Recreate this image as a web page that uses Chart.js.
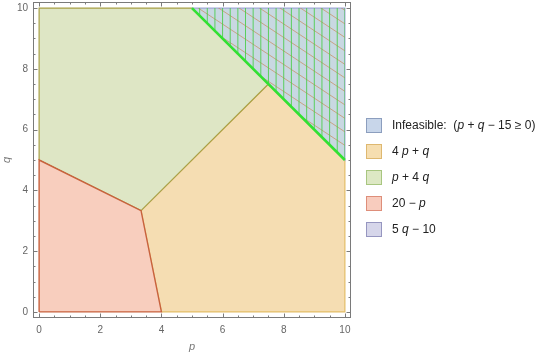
<!DOCTYPE html>
<html>
<head>
<meta charset="utf-8">
<script src="https://cdn.jsdelivr.net/npm/chart.js@4/dist/chart.umd.min.js"></script>
<style>
  html, body { margin: 0; padding: 0; background: #fff; }
  #wrap { position: relative; width: 540px; height: 355px; }
  #legend { position: absolute; left: 366px; top: 112px; font-family: "Liberation Sans", Arial, sans-serif; font-size: 12px; color: #222; }
  .row { display: flex; align-items: center; height: 26px; white-space: pre; }
  .box { width: 16px; height: 15px; box-sizing: border-box; border: 1px solid; margin-right: 10px; }
  .row i { font-style: italic; }
</style>
</head>
<body>
<div id="wrap">
  <canvas id="c" width="540" height="355"></canvas>
  <div id="legend"></div>
</div>
<script>
// ---- data ----
const legendLabels = ['Infeasible:  (p + q \u2212 15 \u2265 0)', '4 p + q', 'p + 4 q', '20 \u2212 p', '5 q \u2212 10'];
const infeasibleP = [5, 10, 10, 5];
const infeasibleQ = [10, 10, 5, 10];
const yellowP = [4, 10, 10, 7.5, 10 / 3, 4];      // region where 4p+q is minimal
const yellowQ = [0, 0, 5, 7.5, 10 / 3, 0];
const greenP = [0, 0, 5, 7.5, 10 / 3, 0];          // region where p+4q is minimal
const greenQ = [5, 10, 10, 7.5, 10 / 3, 5];
const redP = [0, 0, 10 / 3, 4, 0];                 // region where 20-p is minimal
const redQ = [0, 5, 10 / 3, 0, 0];
const purpleP = [];                                // 5q-10: empty region
const purpleQ = [];
const constraintP = [5, 10];                       // p + q = 15
const constraintQ = [10, 5];
const xTickValues = [0, 2, 4, 6, 8, 10];
const yTickValues = [0, 2, 4, 6, 8, 10];

// ---- styles ----
const legendFill = ['rgb(200,214,234)', 'rgb(246,222,176)', 'rgb(221,232,196)', 'rgb(248,204,190)', 'rgb(214,214,234)'];
const legendBorder = ['rgb(140,158,190)', 'rgb(222,184,112)', 'rgb(168,198,128)', 'rgb(222,142,122)', 'rgb(150,150,192)'];

const pts = (P, Q) => P.map((p, i) => ({ x: p, y: Q[i] }));

const TRI = 1;
const datasets = [
  { label: 'constraint', data: pts(constraintP, constraintQ), showLine: true, fill: false,
    borderColor: 'rgb(50,225,50)', borderWidth: 2.6, pointRadius: 0, order: 0 },
  { label: legendLabels[0], data: pts(infeasibleP, infeasibleQ), showLine: true, fill: 'shape',
    backgroundColor: 'rgb(200,216,226)', borderColor: 'rgb(160,168,216)', borderWidth: 1.2, pointRadius: 0, order: 1 },
  { label: legendLabels[3], data: pts(redP, redQ), showLine: true, fill: 'shape',
    backgroundColor: 'rgb(248,206,190)', borderColor: 'rgb(200,98,62)', borderWidth: 1.4, pointRadius: 0, order: 2 },
  { label: legendLabels[2], data: pts(greenP, greenQ), showLine: true, fill: 'shape',
    backgroundColor: 'rgb(222,230,197)', borderColor: 'rgb(168,160,70)', borderWidth: 1.2, pointRadius: 0, order: 3 },
  { label: legendLabels[1], data: pts(yellowP, yellowQ), showLine: true, fill: 'shape',
    backgroundColor: 'rgb(245,221,178)', borderColor: 'rgb(228,190,104)', borderWidth: 1.2, pointRadius: 0, order: 4 },
  { label: legendLabels[4], data: pts(purpleP, purpleQ), showLine: true, fill: 'shape',
    backgroundColor: 'rgb(214,214,234)', borderColor: 'rgb(150,150,192)', borderWidth: 1, pointRadius: 0, order: 5 }
];

const hatchPlugin = {
  id: 'hatch',
  afterDatasetDraw(chart, args) {
    if (args.index !== TRI) return;
    const pts = args.meta.data;
    if (!pts.length) return;
    const ctx = chart.ctx;
    const xs = chart.scales.x;
    ctx.save();
    ctx.beginPath();
    pts.forEach((p, i) => i ? ctx.lineTo(p.x, p.y) : ctx.moveTo(p.x, p.y));
    ctx.closePath();
    ctx.clip();
    const a = chart.chartArea;
    ctx.strokeStyle = 'rgba(200,135,85,0.75)';
    ctx.lineWidth = 0.9;
    const slope = 0.66;
    for (let c = a.top - 400; c < a.bottom + 100; c += 13.5) {
      ctx.beginPath();
      ctx.moveTo(a.left, c);
      ctx.lineTo(a.right, c + slope * (a.right - a.left));
      ctx.stroke();
    }
    ctx.strokeStyle = 'rgba(70,205,70,0.85)';
    ctx.lineWidth = 1;
    for (let v = 5; v <= 10.001; v += 0.25) {
      const x = xs.getPixelForValue(v);
      ctx.beginPath();
      ctx.moveTo(x, a.top);
      ctx.lineTo(x, a.bottom);
      ctx.stroke();
    }
    ctx.restore();
  }
};

const framePlugin = {
  id: 'frame',
  afterDatasetsDraw(chart) {
    const ctx = chart.ctx, a = chart.chartArea;
    const xs = chart.scales.x, ys = chart.scales.y;
    ctx.save();
    ctx.strokeStyle = '#7a7a7a';
    ctx.lineWidth = 1;
    ctx.strokeRect(Math.round(a.left) + 0.5, Math.round(a.top) + 0.5, Math.round(a.right - a.left) - 1, Math.round(a.bottom - a.top) - 1);
    ctx.beginPath();
    for (let v = 0; v <= 10.001; v += 0.5) {
      const len = (Math.abs(v % 2) < 1e-6) ? 4.5 : 2.5;
      const x = Math.round(xs.getPixelForValue(v)) + 0.5;
      ctx.moveTo(x, a.bottom); ctx.lineTo(x, a.bottom - len);
      ctx.moveTo(x, a.top); ctx.lineTo(x, a.top + len);
      const y = Math.round(ys.getPixelForValue(v)) + 0.5;
      ctx.moveTo(a.left, y); ctx.lineTo(a.left + len, y);
      ctx.moveTo(a.right, y); ctx.lineTo(a.right - len, y);
    }
    ctx.stroke();
    ctx.restore();
  }
};

const tickFont = { family: '"Liberation Sans", Arial, sans-serif', size: 10 };
const titleFont = { family: '"Liberation Sans", Arial, sans-serif', size: 11, style: 'italic' };

new Chart(document.getElementById('c'), {
  type: 'scatter',
  data: { datasets },
  options: {
    responsive: false,
    animation: false,
    layout: { padding: { top: 2, right: 189, left: 0, bottom: 0 } },
    plugins: { legend: { display: false }, tooltip: { enabled: false } },
    elements: { line: { tension: 0 } },
    scales: {
      x: {
        type: 'linear', min: -0.2, max: 10.2,
        afterBuildTicks: s => { s.ticks = xTickValues.map(v => ({ value: v })); },
        afterFit: s => { s.height = 37; s.paddingLeft = 0; s.paddingRight = 0; },
        grid: { display: false, drawTicks: false },
        border: { display: false },
        ticks: { padding: 6, color: '#666', font: tickFont, maxRotation: 0 },
        title: { display: true, text: 'p', color: '#777', font: titleFont, padding: { top: 0, bottom: 1 } }
      },
      y: {
        type: 'linear', min: -0.2, max: 10.2,
        afterBuildTicks: s => { s.ticks = yTickValues.map(v => ({ value: v })); },
        afterFit: s => { s.width = 33; s.paddingTop = 0; s.paddingBottom = 0; },
        grid: { display: false, drawTicks: false },
        border: { display: false },
        ticks: { padding: 5, color: '#666', font: tickFont },
        title: { display: true, text: 'q', color: '#777', font: titleFont, padding: { top: 0, bottom: 1 } }
      }
    }
  },
  plugins: [hatchPlugin, framePlugin]
});

// HTML legend
const legend = document.getElementById('legend');
legendLabels.forEach((t, i) => {
  const row = document.createElement('div');
  row.className = 'row';
  const box = document.createElement('div');
  box.className = 'box';
  box.style.background = legendFill[i];
  box.style.borderColor = legendBorder[i];
  const span = document.createElement('span');
  t.split(/\b([pq])\b/).forEach((part, k) => {
    if (k % 2 === 1) { const it = document.createElement('i'); it.textContent = part; span.appendChild(it); }
    else span.appendChild(document.createTextNode(part));
  });
  row.appendChild(box); row.appendChild(span);
  legend.appendChild(row);
});
</script>
</body>
</html>
